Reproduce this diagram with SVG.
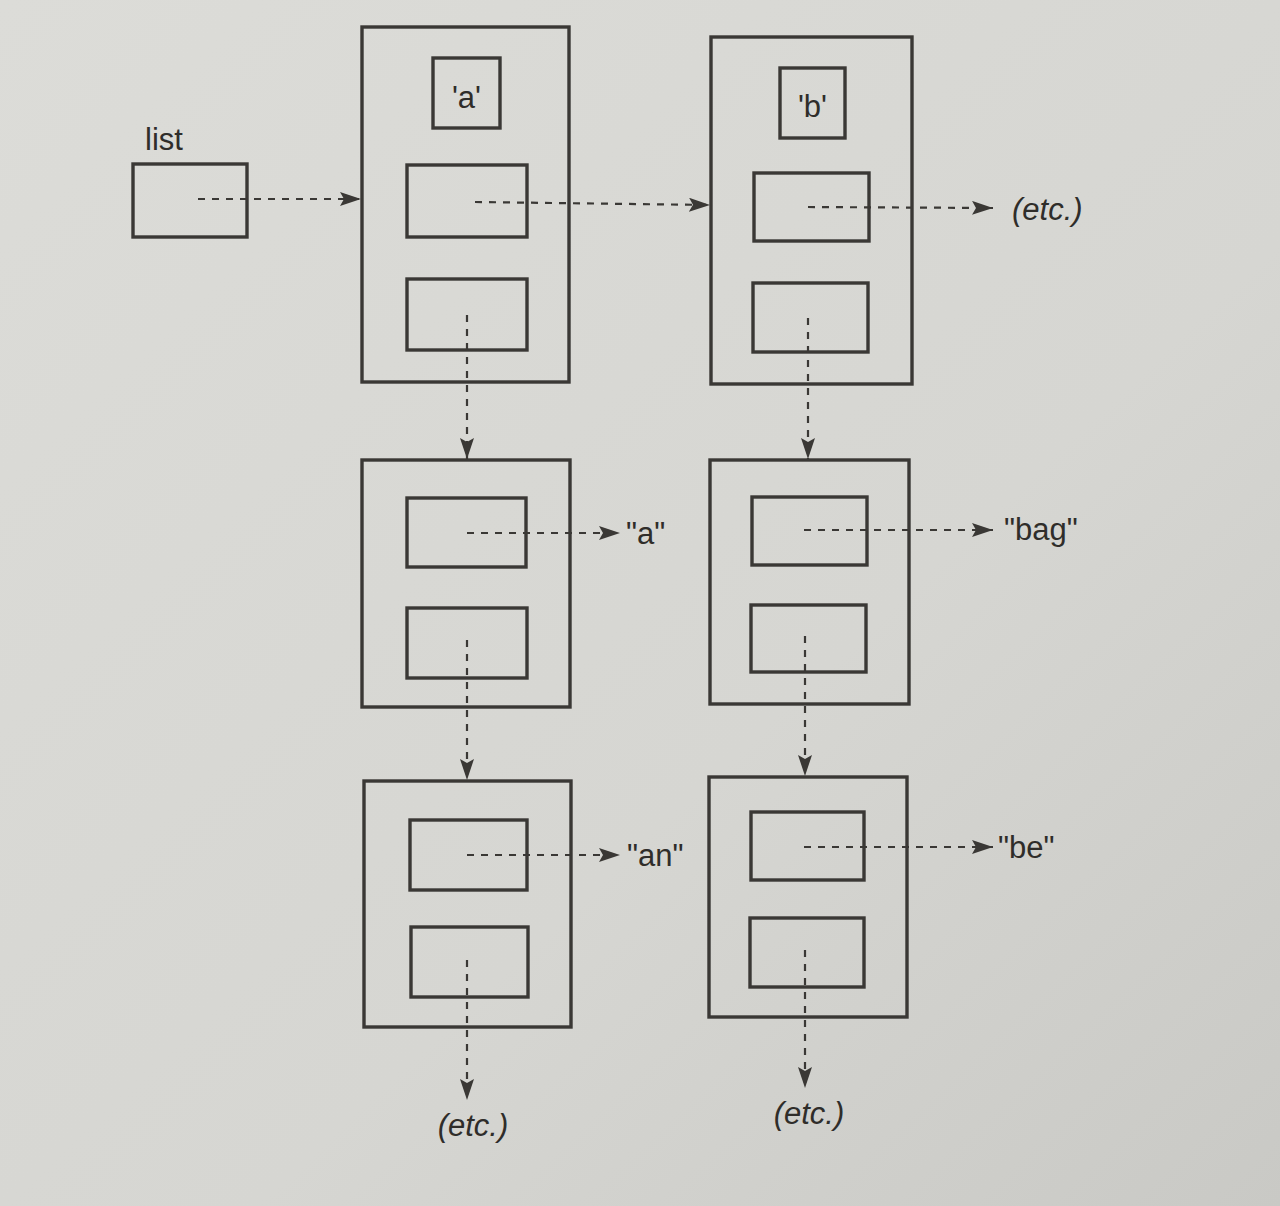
<svg xmlns="http://www.w3.org/2000/svg" width="1280" height="1206" viewBox="0 0 1280 1206">
  <defs>
    <linearGradient id="paper" x1="0" y1="0" x2="1" y2="1">
      <stop offset="0" stop-color="#dcdcd8"/>
      <stop offset="0.6" stop-color="#d6d6d2"/>
      <stop offset="1" stop-color="#c9c9c5"/>
    </linearGradient>
    <marker id="ah" markerUnits="userSpaceOnUse" markerWidth="22" markerHeight="16" refX="21" refY="7" orient="auto">
      <path d="M0,0 L21,7 L0,14 L4,7 Z" fill="#3a3835"/>
    </marker>
    <style>
      .box { fill: none; stroke: #3a3835; stroke-width: 3.4; }
      .link { fill: none; stroke: #3a3835; stroke-width: 2.2; stroke-dasharray: 7 7; marker-end: url(#ah); }
      .lbl { font-family: "Liberation Sans", Arial, sans-serif; font-size: 31px; fill: #2f2d2a; }
      .etc { font-style: italic; }
    </style>
  </defs>
  <rect x="0" y="0" width="1280" height="1206" fill="url(#paper)"/>

  <g id="list">
    <text class="lbl" x="145" y="150" font-size="29">list</text>
    <rect class="box" x="133" y="164" width="114" height="73"/>
  </g>

  <g id="node-a">
    <rect class="box" x="362" y="27" width="207" height="355"/>
    <rect class="box" x="433" y="58" width="67" height="70"/>
    <text class="lbl" x="466.5" y="108" text-anchor="middle">'a'</text>
    <rect class="box" x="407" y="165" width="120" height="72"/>
    <rect class="box" x="407" y="279" width="120" height="71"/>
  </g>

  <g id="node-b">
    <rect class="box" x="711" y="37" width="201" height="347"/>
    <rect class="box" x="780" y="68" width="65" height="70"/>
    <text class="lbl" x="812.5" y="117" text-anchor="middle">'b'</text>
    <rect class="box" x="754" y="173" width="115" height="68"/>
    <rect class="box" x="753" y="283" width="115" height="69"/>
  </g>

  <g id="str-a">
    <rect class="box" x="362" y="460" width="208" height="247"/>
    <rect class="box" x="407" y="498" width="119" height="69"/>
    <rect class="box" x="407" y="608" width="120" height="70"/>
  </g>

  <g id="str-bag">
    <rect class="box" x="710" y="460" width="199" height="244"/>
    <rect class="box" x="752" y="497" width="115" height="68"/>
    <rect class="box" x="751" y="605" width="115" height="67"/>
  </g>

  <g id="str-an">
    <rect class="box" x="364" y="781" width="207" height="246"/>
    <rect class="box" x="410" y="820" width="117" height="70"/>
    <rect class="box" x="411" y="927" width="117" height="70"/>
  </g>

  <g id="str-be">
    <rect class="box" x="709" y="777" width="198" height="240"/>
    <rect class="box" x="751" y="812" width="113" height="68"/>
    <rect class="box" x="750" y="918" width="114" height="69"/>
  </g>

  <g id="connectors">
    <line class="link" x1="198" y1="199" x2="361" y2="199"/>
    <line class="link" x1="475" y1="202" x2="710" y2="205"/>
    <line class="link" x1="808" y1="207" x2="993" y2="208"/>
    <line class="link" x1="467" y1="315" x2="467" y2="459"/>
    <line class="link" x1="808" y1="318" x2="808" y2="459"/>
    <line class="link" x1="467" y1="533" x2="620" y2="533"/>
    <line class="link" x1="804" y1="530" x2="993" y2="530"/>
    <line class="link" x1="467" y1="640" x2="467" y2="780"/>
    <line class="link" x1="805" y1="636" x2="805" y2="776"/>
    <line class="link" x1="467" y1="855" x2="620" y2="855"/>
    <line class="link" x1="804" y1="847" x2="993" y2="847"/>
    <line class="link" x1="467" y1="960" x2="467" y2="1100"/>
    <line class="link" x1="805" y1="950" x2="805" y2="1088"/>
  </g>

  <g id="labels">
    <text class="lbl etc" x="1012" y="220">(etc.)</text>
    <text class="lbl" x="626" y="544">"a"</text>
    <text class="lbl" x="1004" y="540">"bag"</text>
    <text class="lbl" x="627" y="866">"an"</text>
    <text class="lbl" x="998" y="858">"be"</text>
    <text class="lbl etc" x="473" y="1136" text-anchor="middle">(etc.)</text>
    <text class="lbl etc" x="809" y="1124" text-anchor="middle">(etc.)</text>
  </g>
</svg>
